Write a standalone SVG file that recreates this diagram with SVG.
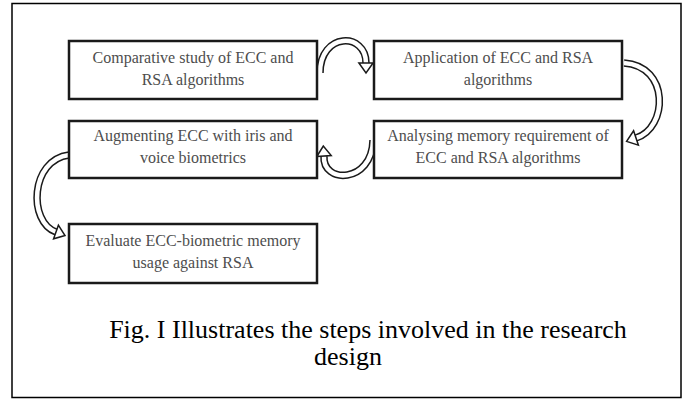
<svg xmlns="http://www.w3.org/2000/svg" width="686" height="400" viewBox="0 0 686 400">
  <style>
    .box { fill: #ffffff; stroke: #1a1a1a; stroke-width: 2.5; }
    .label { font-family: "Liberation Serif", "Times New Roman", serif; font-size: 16px; fill: #4d4d4d; text-anchor: middle; }
    .caption { font-family: "Liberation Serif", "Times New Roman", serif; font-size: 26px; fill: #000000; text-anchor: middle; }
    .band-outer { fill: none; stroke: #1a1a1a; stroke-width: 7.5; }
    .band-inner { fill: none; stroke: #ffffff; stroke-width: 4.5; }
    .head { fill: #ffffff; stroke: #1a1a1a; stroke-width: 1.5; stroke-linejoin: miter; }
  </style>

  <!-- outer frame -->
  <rect x="12" y="3.5" width="669" height="394" fill="#ffffff" stroke="#000000" stroke-width="1.5"/>

  <!-- curved block arrows between steps -->
  <g id="connectors">
    <g id="arrow-1-2">
      <path class="band-outer" d="M320,73 C320,32 366,32 366,63"/>
      <path class="band-inner" d="M320,73 C320,32 366,32 366,63"/>
      <polygon class="head" points="358.9,63 373.1,63 366,73"/>
    </g>
    <g id="arrow-2-4">
      <path class="band-outer" d="M624,63 C670,66 668,128 636,138"/>
      <path class="band-inner" d="M624,63 C670,66 668,128 636,138"/>
      <polygon class="head" points="633.6,130.8 638.4,145.2 626.6,141.4"/>
    </g>
    <g id="arrow-4-3">
      <path class="band-outer" d="M373,140 C372,184 322,184 324,156"/>
      <path class="band-inner" d="M373,140 C372,184 322,184 324,156"/>
      <polygon class="head" points="316.8,156.5 331.2,155.5 323.3,146"/>
    </g>
    <g id="arrow-3-5">
      <path class="band-outer" d="M69,155 C30,160 28,222 56,232"/>
      <path class="band-inner" d="M69,155 C30,160 28,222 56,232"/>
      <polygon class="head" points="53.6,238.8 58.4,225.2 65,235.5"/>
    </g>
  </g>

  <g id="step-1">
    <rect class="box" x="69" y="41" width="248" height="58"/>
    <text class="label" x="193" y="63">Comparative study of ECC and</text>
    <text class="label" x="193" y="85">RSA algorithms</text>
  </g>

  <g id="step-2">
    <rect class="box" x="374" y="41" width="248" height="58"/>
    <text class="label" x="498" y="63">Application of ECC and RSA</text>
    <text class="label" x="498" y="85">algorithms</text>
  </g>

  <g id="step-3">
    <rect class="box" x="69" y="121" width="248" height="57"/>
    <text class="label" x="193" y="141">Augmenting ECC with iris and</text>
    <text class="label" x="193" y="163">voice biometrics</text>
  </g>

  <g id="step-4">
    <rect class="box" x="374" y="121" width="248" height="57"/>
    <text class="label" x="498" y="141">Analysing memory requirement of</text>
    <text class="label" x="498" y="163">ECC and RSA algorithms</text>
  </g>

  <g id="step-5">
    <rect class="box" x="69" y="224" width="248" height="59"/>
    <text class="label" x="193" y="246">Evaluate ECC-biometric memory</text>
    <text class="label" x="193" y="268">usage against RSA</text>
  </g>

  <g id="caption">
    <text class="caption" x="368" y="338">Fig. I Illustrates the steps involved in the research</text>
    <text class="caption" x="348" y="365">design</text>
  </g>
</svg>
